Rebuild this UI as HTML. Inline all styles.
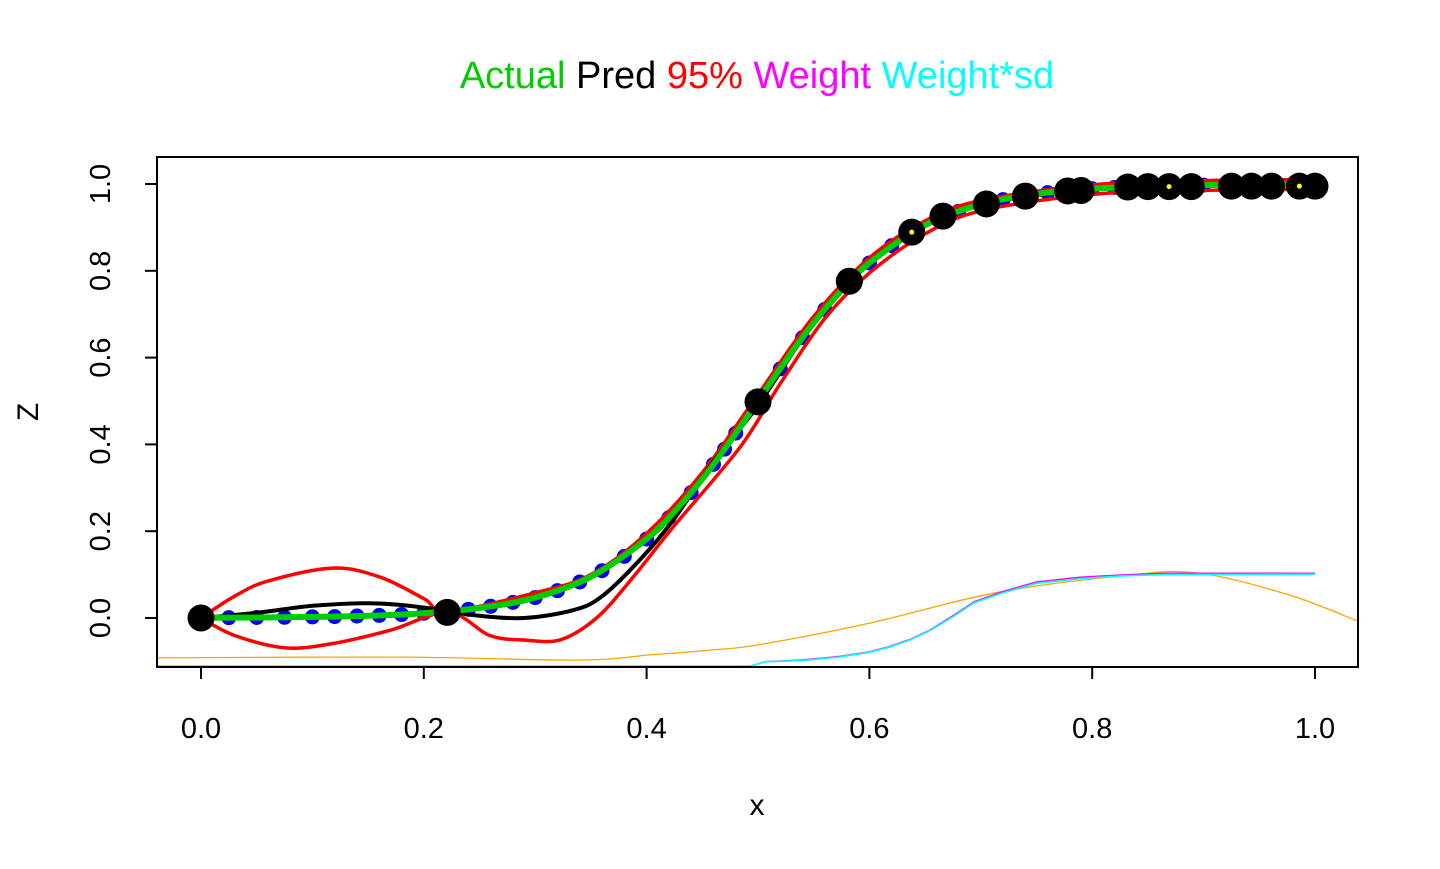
<!DOCTYPE html>
<html><head><meta charset="utf-8"><style>
body{margin:0;background:#fff}
text{font-family:"Liberation Sans",Arial,sans-serif}
</style></head><body>
<svg id="chart" width="1440" height="864" xmlns="http://www.w3.org/2000/svg">
<defs><clipPath id="clip"><rect x="157" y="157" width="1201" height="510"/></clipPath></defs>
<text x="757" y="88" font-size="38" text-anchor="middle"><tspan fill="#00CD00">Actual</tspan> <tspan fill="#000">Pred</tspan> <tspan fill="#FF0000">95%</tspan> <tspan fill="#FF00FF">Weight</tspan> <tspan fill="#00FFFF">Weight*sd</tspan></text>
<g id="plot" clip-path="url(#clip)"></g>
<rect x="157" y="157" width="1201" height="510" fill="none" stroke="#000" stroke-width="2"/>
<g id="axes"></g>
<text x="757" y="815" font-size="30" text-anchor="middle">x</text>
<text x="38" y="412" font-size="30" text-anchor="middle" transform="rotate(-90 38 412)">Z</text>
</svg>
<script>
const xTicks=[0,0.2,0.4,0.6,0.8,1.0];
const xTickLabels=["0.0","0.2","0.4","0.6","0.8","1.0"];
const yTicks=[0,0.2,0.4,0.6,0.8,1.0];
const yTickLabels=["0.0","0.2","0.4","0.6","0.8","1.0"];
const actualX=[0,0.05,0.1,0.15,0.2,0.25,0.3,0.35,0.4,0.425,0.45,0.475,0.5,0.525,0.55,0.575,0.6,0.65,0.7,0.75,0.8,0.85,0.9,0.95,1.0];
const actualY=[0.0006,0.0012,0.0025,0.005,0.011,0.023,0.047,0.095,0.182,0.245,0.32,0.407,0.5,0.593,0.68,0.755,0.818,0.905,0.953,0.977,0.989,0.995,0.9975,0.999,0.999];
const predX=[0,0.05,0.1,0.146,0.18,0.222,0.25,0.29,0.334,0.36,0.394,0.424,0.46,0.5,0.55,0.6,0.65,0.7,0.8,0.9,1.0];
const predY=[0,0.012,0.028,0.034,0.03,0.016,0.005,0.0,0.018,0.05,0.134,0.226,0.36,0.49,0.68,0.82,0.905,0.953,0.988,0.996,0.998];
const upperX=[0,0.03,0.06,0.118,0.16,0.2,0.222,0.3,0.35,0.4,0.45,0.5,0.55,0.6,0.65,0.7,0.8,0.9,1.0];
const upperY=[0,0.05,0.085,0.115,0.095,0.045,0.015,0.058,0.1,0.195,0.335,0.515,0.695,0.83,0.915,0.962,0.998,1.008,1.01];
const lowerX=[0,0.03,0.076,0.12,0.17,0.222,0.259,0.291,0.323,0.355,0.385,0.424,0.484,0.52,0.56,0.6,0.65,0.7,0.8,0.9,1.0];
const lowerY=[0,-0.04,-0.069,-0.058,-0.028,0.013,-0.04,-0.051,-0.05,0.0,0.085,0.21,0.394,0.54,0.69,0.795,0.885,0.938,0.976,0.985,0.988];
const blueX=[0.025,0.05,0.075,0.1,0.12,0.14,0.16,0.18,0.2,0.24,0.26,0.28,0.3,0.32,0.34,0.36,0.38,0.4,0.42,0.44,0.46,0.47,0.48,0.52,0.54,0.56,0.6,0.62,0.68,0.72,0.76,0.8,0.82,0.86,0.9,0.92,0.94,0.96,0.98];
const blueY=[0.0008,0.0012,0.0017,0.0025,0.0033,0.0045,0.006,0.008,0.011,0.02,0.027,0.036,0.047,0.063,0.083,0.109,0.142,0.182,0.231,0.289,0.354,0.389,0.426,0.574,0.646,0.711,0.818,0.858,0.937,0.964,0.98,0.989,0.992,0.9955,0.9975,0.998,0.9986,0.999,0.9993];
const obsX=[0,0.221,0.5,0.582,0.638,0.666,0.705,0.74,0.778,0.79,0.832,0.85,0.869,0.889,0.925,0.943,0.961,0.986,1.0];
const obsY=[0,0.013,0.498,0.776,0.889,0.926,0.954,0.972,0.984,0.985,0.993,0.994,0.994,0.994,0.995,0.995,0.995,0.995,0.995];
const highlightX=[0.638,0.869,0.986];
const highlightY=[0.889,0.994,0.995];
const weightX=[-0.05,0.493,0.506,0.54,0.573,0.6,0.618,0.637,0.655,0.675,0.694,0.72,0.75,0.79,0.826,0.864,1.0];
const weightY=[-0.111,-0.111,-0.101,-0.097,-0.089,-0.078,-0.066,-0.049,-0.027,0.005,0.037,0.061,0.083,0.094,0.099,0.103,0.103];
const wsdX=[-0.05,0.493,0.506,0.54,0.573,0.6,0.618,0.637,0.655,0.675,0.694,0.72,0.75,0.79,0.826,0.864,1.0];
const wsdY=[-0.111,-0.111,-0.101,-0.098,-0.09,-0.079,-0.067,-0.05,-0.028,0.003,0.035,0.058,0.08,0.091,0.097,0.1,0.101];
const orangeX=[-0.046,0.179,0.339,0.403,0.457,0.5,0.6,0.713,0.826,0.894,0.977,1.04];
const orangeY=[-0.092,-0.09,-0.097,-0.085,-0.074,-0.062,-0.012,0.058,0.097,0.104,0.053,-0.009];

const sx=v=>201+v*1114;
const sy=v=>618-v*434;
const NS="http://www.w3.org/2000/svg";
const plot=document.getElementById('plot');
const axes=document.getElementById('axes');
function mk(tag,attrs,parent){const e=document.createElementNS(NS,tag);for(const k in attrs)e.setAttribute(k,attrs[k]);parent.appendChild(e);return e;}
function path(xs,ys,smooth){
  const P=xs.map((x,i)=>[sx(x),sy(ys[i])]);
  let d='M'+P[0][0].toFixed(1)+','+P[0][1].toFixed(1);
  for(let i=0;i<P.length-1;i++){
    if(!smooth){d+='L'+P[i+1][0].toFixed(1)+','+P[i+1][1].toFixed(1);continue;}
    const p0=P[Math.max(0,i-1)],p1=P[i],p2=P[i+1],p3=P[Math.min(P.length-1,i+2)];
    const c1=[p1[0]+(p2[0]-p0[0])/6,p1[1]+(p2[1]-p0[1])/6];
    const c2=[p2[0]-(p3[0]-p1[0])/6,p2[1]-(p3[1]-p1[1])/6];
    d+='C'+c1[0].toFixed(1)+','+c1[1].toFixed(1)+' '+c2[0].toFixed(1)+','+c2[1].toFixed(1)+' '+p2[0].toFixed(1)+','+p2[1].toFixed(1);
  }
  return d;}
function line(xs,ys,color,w,name,smooth){const p=mk('path',{d:path(xs,ys,smooth),fill:'none',stroke:color,'stroke-width':w,'stroke-linejoin':'round'},plot);

}

line(orangeX,orangeY,'#FFA500',1.3,'orange-line',true);
line(weightX,weightY,'#FF00FF',1.6,'weight-line',false);
line(wsdX,wsdY,'#00FFFF',1.6,'weight-sd-line',false);
blueX.forEach((x,i)=>{const c=mk('circle',{cx:sx(x),cy:sy(blueY[i]),r:7.5,fill:'#0000FF'},plot);

});
line(upperX,upperY,'#FF0000',3.5,'upper-95-line',true);
line(lowerX,lowerY,'#FF0000',3.5,'lower-95-line',true);
line(predX,predY,'#000000',4,'pred-line',true);
line(actualX,actualY,'#00CD00',6,'actual-line',true);
obsX.forEach((x,i)=>{const c=mk('circle',{cx:sx(x),cy:sy(obsY[i]),r:13.5,fill:'#000'},plot);

});
highlightX.forEach((x,i)=>{const c=mk('circle',{cx:sx(x),cy:sy(highlightY[i]),r:2.5,fill:'#FFFF00'},plot);

});

xTicks.forEach((v,i)=>{const l=mk('line',{x1:sx(v),x2:sx(v),y1:667,y2:679,stroke:'#000','stroke-width':2},axes);


const t=mk('text',{x:sx(v),y:738,'font-size':29,'text-anchor':'middle'},axes);t.textContent=xTickLabels[i];

});
yTicks.forEach((v,i)=>{const l=mk('line',{x1:145,x2:157,y1:sy(v),y2:sy(v),stroke:'#000','stroke-width':2},axes);


const t=mk('text',{x:110,y:sy(v),'font-size':29,'text-anchor':'middle',transform:'rotate(-90 110 '+sy(v)+')'},axes);t.textContent=yTickLabels[i];

});
</script>
</body></html>
